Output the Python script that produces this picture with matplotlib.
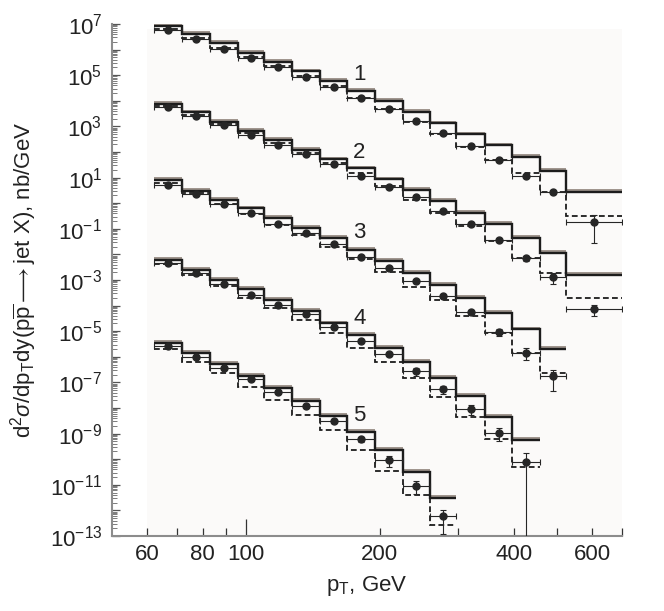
import numpy as np
import matplotlib
matplotlib.use('Agg')
import matplotlib.pyplot as plt
from matplotlib.ticker import FixedLocator, FuncFormatter, NullFormatter, LogLocator

plt.rcParams['font.family'] = ['Liberation Sans', 'DejaVu Sans']
plt.rcParams['mathtext.fontset'] = 'custom'
plt.rcParams['mathtext.rm'] = 'Liberation Sans'
plt.rcParams['mathtext.it'] = 'Liberation Sans:italic'
plt.rcParams['mathtext.bf'] = 'Liberation Sans:bold'

# ---------------- data ----------------
bin_edges = [62, 72, 83, 96, 110, 127, 147, 169, 195, 225, 259, 297, 344, 397, 457, 525, 700]
series_labels = ['1', '2', '3', '4', '5']

# solid histogram (theory, with grey band)
solid_1 = [8.3e6, 4.0e6, 1.8e6, 7.6e5, 3.2e5, 1.4e5, 5.8e4, 2.5e4, 1.0e4, 3.6e3, 1.3e3, 4.9e2, 1.8e2, 62, 18, 2.8]
solid_2 = [7.5e3, 3.5e3, 1.5e3, 6.8e2, 3.0e2, 1.2e2, 51, 23, 8.5, 3.3, 1.23, 0.41, 0.15, 0.043, 0.0117, 1.6e-3]
solid_3 = [8.05, 3.1, 1.33, 0.63, 0.26, 0.105, 0.043, 0.0148, 5.6e-3, 1.95e-3, 6.3e-4, 1.95e-4, 5.0e-5, 1.17e-5, 2.0e-6]
solid_4 = [5.9e-3, 2.45e-3, 1.0e-3, 4.4e-4, 1.66e-4, 6.0e-5, 2.0e-5, 7.1e-6, 2.3e-6, 6.2e-7, 1.45e-7, 3.0e-8, 4.6e-9, 5.6e-10]
solid_5 = [3.5e-6, 1.4e-6, 5.2e-7, 1.8e-7, 5.9e-8, 1.95e-8, 4.9e-9, 1.15e-9, 2.3e-10, 3.1e-11, 3.0e-12]

# dashed histogram
dashed_1 = [6.2e6, 2.9e6, 1.2e6, 5.2e5, 2.3e5, 9.3e4, 3.8e4, 1.26e4, 4.9e3, 1.5e3, 4.9e2, 1.6e2, 48, 15, 2.7, 0.32]
dashed_2 = [6.5e3, 2.8e3, 1.2e3, 5.4e2, 2.2e2, 89, 36, 15, 4.7, 1.33, 0.43, 0.13, 0.032, 7.1e-3, 1.8e-3, 1.95e-4]
dashed_3 = [6.0, 2.45, 0.93, 0.38, 0.141, 0.058, 0.020, 6.6e-3, 2.1e-3, 5.5e-4, 1.66e-4, 3.9e-5, 8.3e-6, 1.45e-6, 2.3e-7]
dashed_4 = [4.2e-3, 1.6e-3, 5.9e-4, 2.0e-4, 7.8e-5, 2.75e-5, 8.3e-6, 2.3e-6, 6.3e-7, 1.45e-7, 2.75e-8, 4.6e-9, 6.2e-10, 5.1e-11]
dashed_5 = [2.0e-6, 6.5e-7, 2.3e-7, 6.8e-8, 2.0e-8, 5.4e-9, 1.4e-9, 2.3e-10, 3.5e-11, 4.0e-12, 2.7e-13]

# data points
data_1 = [5.9e6, 2.6e6, 1.1e6, 4.8e5, 2.1e5, 8.7e4, 3.4e4, 1.3e4, 4.9e3, 1.7e3, 5.5e2, 1.66e2, 48, 11.7, 2.7, 0.18]
data_2 = [5.6e3, 2.6e3, 1.1e3, 4.6e2, 1.95e2, 83, 33, 11.7, 4.4, 1.7, 0.50, 0.15, 0.035, 7.1e-3, 1.3e-3, 7.4e-5]
data_3 = [5.1, 2.3, 0.93, 0.41, 0.16, 0.066, 0.025, 8.1e-3, 2.9e-3, 9.3e-4, 2.4e-4, 5.6e-5, 9.5e-6, 1.45e-6, 1.8e-7]
data_4 = [4.8e-3, 1.8e-3, 6.8e-4, 2.6e-4, 1.05e-4, 4.5e-5, 1.4e-5, 4.3e-6, 1.26e-6, 2.8e-7, 5.4e-8, 9.1e-9, 1.1e-9, 7.6e-11]
data_5 = [2.7e-6, 1.0e-6, 3.7e-7, 1.3e-7, 4.4e-8, 1.2e-8, 3.1e-9, 6.0e-10, 9.3e-11, 9.1e-12, 6.0e-13]

# relative errors of data points
relerr_1 = [0.04, 0.04, 0.04, 0.04, 0.04, 0.04, 0.05, 0.05, 0.05, 0.06, 0.06, 0.07, 0.08, 0.10, 0.15, 0.85]
relerr_2 = [0.05, 0.05, 0.05, 0.05, 0.05, 0.05, 0.05, 0.06, 0.06, 0.07, 0.08, 0.08, 0.10, 0.25, 0.45, 0.45]
relerr_3 = [0.05, 0.05, 0.05, 0.05, 0.05, 0.05, 0.06, 0.06, 0.07, 0.08, 0.10, 0.15, 0.30, 0.50, 0.75]
relerr_4 = [0.05, 0.05, 0.05, 0.06, 0.06, 0.07, 0.08, 0.10, 0.15, 0.35, 0.35, 0.40, 0.55, 1.25]
relerr_5 = [0.06, 0.06, 0.07, 0.08, 0.08, 0.10, 0.15, 0.25, 0.45, 0.50, 0.80]

solids = [solid_1, solid_2, solid_3, solid_4, solid_5]
dasheds = [dashed_1, dashed_2, dashed_3, dashed_4, dashed_5]
datas = [data_1, data_2, data_3, data_4, data_5]
relerrs = [relerr_1, relerr_2, relerr_3, relerr_4, relerr_5]

x_major = [60, 80, 100, 200, 400, 600]
x_minor = [70, 90, 300, 500, 700]

# ---------------- figure ----------------
W, H = 664, 611
fig = plt.figure(figsize=(W / 100, H / 100), dpi=100)
ax = fig.add_axes([112 / W, 1 - 536 / H, 510 / W, 512 / H])
ax.set_xscale('log')
ax.set_yscale('log')
ax.set_xlim(50, 700)
ax.set_ylim(1e-13, 1e7)

# light background panel
ax.fill_between([60, 700], 1e-13, 6.3e6, color='#fbfaf9', lw=0, zorder=0)

edges = np.array(bin_edges, dtype=float)
line_col = '#1c1c1c'
for S, D, P, R in zip(solids, dasheds, datas, relerrs):
    S = np.array(S); D = np.array(D); P = np.array(P); R = np.array(R)
    n = len(S)
    e = edges[:n + 1]
    ax.stairs(S * 10 ** 0.11, e, baseline=S * 10 ** -0.03, fill=True,
              color='#a0968f', lw=0, zorder=2)
    ax.stairs(S, e, baseline=None, color=line_col, lw=1.7, zorder=3)
    ax.stairs(D, e, baseline=None, color=line_col, lw=1.3,
              linestyle=(0, (3.2, 1.8)), zorder=3)
    c = np.sqrt(e[:-1] * e[1:])
    ax.errorbar(c, P, yerr=[P * R, P * R], xerr=[c - e[:-1], e[1:] - c],
                fmt='o', color='#262626', ms=5, mec='#262626',
                elinewidth=0.8, capsize=2.5, capthick=0.8, zorder=5)

# series numbers
label_x = 180
label_y = [1.1e5, 9.5e1, 7e-2, 3.0e-5, 5.2e-9]
for lab, ly in zip(series_labels, label_y):
    ax.text(label_x, ly, lab, fontsize=16, ha='center', va='center', color='#222222')

# axes styling
for s in ['top', 'right']:
    ax.spines[s].set_visible(False)
for s in ['left', 'bottom']:
    ax.spines[s].set_color('#8c8c8c')
    ax.spines[s].set_linewidth(1.5)

ax.xaxis.set_major_locator(FixedLocator(x_major))
ax.xaxis.set_minor_locator(FixedLocator(x_minor))
ax.xaxis.set_major_formatter(FuncFormatter(lambda v, p: '%d' % v))
ax.xaxis.set_minor_formatter(NullFormatter())

ymaj = [10.0 ** k for k in range(-13, 8)]
ax.yaxis.set_major_locator(FixedLocator(ymaj))
ax.yaxis.set_minor_locator(LogLocator(base=10, subs=np.arange(2, 10), numticks=100))

def yfmt(v, pos):
    k = int(round(np.log10(v)))
    return r'$10^{%d}$' % k if k % 2 else ''

ax.yaxis.set_major_formatter(FuncFormatter(yfmt))
ax.yaxis.set_minor_formatter(NullFormatter())

ax.tick_params(axis='x', which='both', direction='in', length=5.5, width=0.9,
               color='#333333', labelsize=16, pad=6, labelcolor='#222222')
ax.tick_params(axis='y', which='major', direction='in', length=6, width=0.9,
               color='#555555', labelsize=16, pad=7, labelcolor='#222222')
ax.tick_params(axis='y', which='minor', direction='in', length=3.8, width=0.6,
               color='#666666')

for t, loc in zip(ax.xaxis.get_major_ticks(), ax.xaxis.get_majorticklocs()):
    if abs(loc - 100) < 1e-6:
        t.tick1line.set_markersize(12)

ax.set_xlabel(r'p$_{\rm T}$, GeV', fontsize=16, color='#222222', labelpad=6)
ax.set_ylabel(r'd$^2\sigma$/dp$_{\rm T}$dy(p$\overline{\rm p}$$\longrightarrow$jet X), nb/GeV',
              fontsize=16, color='#222222', labelpad=8)

fig.savefig('out.png', dpi=100)
